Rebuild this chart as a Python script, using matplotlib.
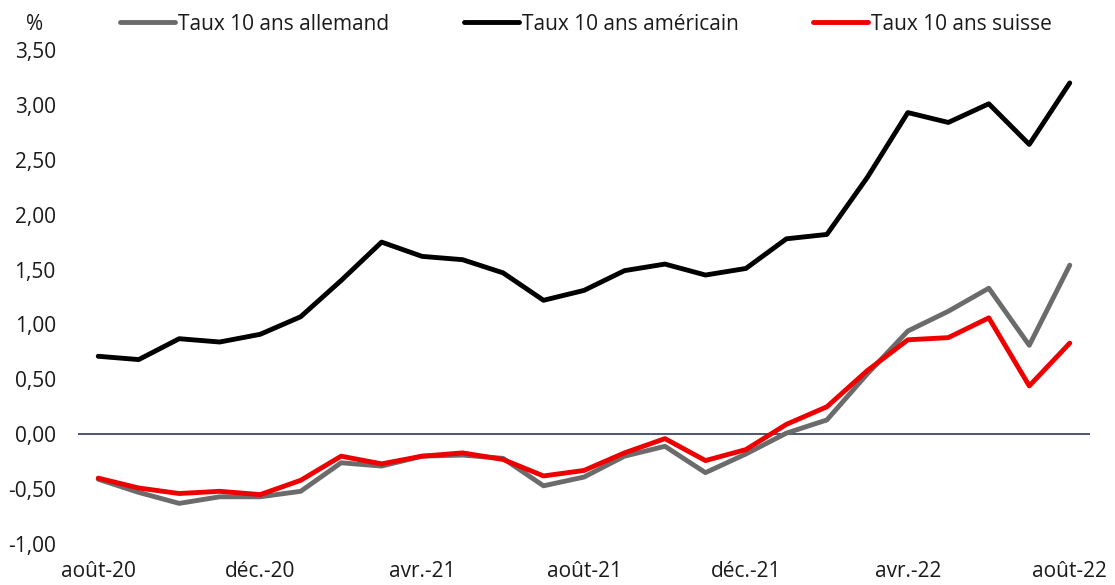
import matplotlib
matplotlib.use("Agg")
import matplotlib.pyplot as plt
from matplotlib.ticker import FuncFormatter

plt.rcParams['font.family'] = ['Open Sans', 'DejaVu Sans']

months = ["août-20", "sept.-20", "oct.-20", "nov.-20", "déc.-20", "janv.-21", "févr.-21",
          "mars-21", "avr.-21", "mai-21", "juin-21", "juil.-21", "août-21", "sept.-21",
          "oct.-21", "nov.-21", "déc.-21", "janv.-22", "févr.-22", "mars-22", "avr.-22",
          "mai-22", "juin-22", "juil.-22", "août-22"]

us_10y = [0.71, 0.68, 0.87, 0.84, 0.91, 1.07, 1.40, 1.75, 1.62, 1.59, 1.47, 1.22, 1.31,
          1.49, 1.55, 1.45, 1.51, 1.78, 1.82, 2.34, 2.93, 2.84, 3.01, 2.64, 3.20]
de_10y = [-0.41, -0.53, -0.63, -0.57, -0.57, -0.52, -0.26, -0.29, -0.20, -0.19, -0.22,
          -0.47, -0.39, -0.20, -0.11, -0.35, -0.18, 0.01, 0.13, 0.55, 0.94, 1.12, 1.33,
          0.81, 1.54]
ch_10y = [-0.40, -0.49, -0.54, -0.52, -0.55, -0.42, -0.20, -0.27, -0.20, -0.17, -0.23,
          -0.38, -0.33, -0.17, -0.04, -0.24, -0.14, 0.09, 0.25, 0.58, 0.86, 0.88, 1.06,
          0.44, 0.83]

tick_idx = [0, 4, 8, 12, 16, 20, 24]

FS = 15
TXT = "#1a1a1a"

fig = plt.figure(figsize=(11.15, 5.85), dpi=100)
ax = fig.add_axes([78/1115, 1-544/585, (1090-78)/1115, (544-50)/585])

x = list(range(len(months)))
kw = dict(lw=3.5, solid_capstyle="round", solid_joinstyle="round")
ax.plot(x, de_10y, color="#6B6B6B", label="Taux 10 ans allemand", **kw)
ax.plot(x, us_10y, color="#000000", label="Taux 10 ans américain", **kw)
ax.plot(x, ch_10y, color="#EE0000", label="Taux 10 ans suisse", **kw)
ax.axhline(0, color="#2B3A5E", lw=1.2, zorder=0)

ax.set_xlim(-0.5, len(months) - 0.5)
ax.set_ylim(-1.0, 3.5)
ax.set_yticks([-1.0, -0.5, 0, 0.5, 1.0, 1.5, 2.0, 2.5, 3.0, 3.5])
ax.yaxis.set_major_formatter(FuncFormatter(lambda v, p: f"{v:.2f}".replace(".", ",")))
ax.set_xticks(tick_idx)
ax.set_xticklabels([months[i] for i in tick_idx])
for s in ax.spines.values():
    s.set_visible(False)
ax.tick_params(axis="both", length=0, labelsize=FS, colors=TXT)
ax.tick_params(axis="x", pad=12)
ax.tick_params(axis="y", pad=16)

fig.text(35/1115, 1-24/585, "%", ha="center", va="center", fontsize=FS, color=TXT)

leg = fig.legend(loc="center", bbox_to_anchor=(586/1115, 1-24/585), ncol=3, frameon=False,
                 fontsize=FS, handlelength=2.65, handletextpad=0.15, columnspacing=3.55,
                 borderaxespad=0, borderpad=0)
for t in leg.get_texts():
    t.set_color(TXT)

fig.savefig("out.png", dpi=100)
